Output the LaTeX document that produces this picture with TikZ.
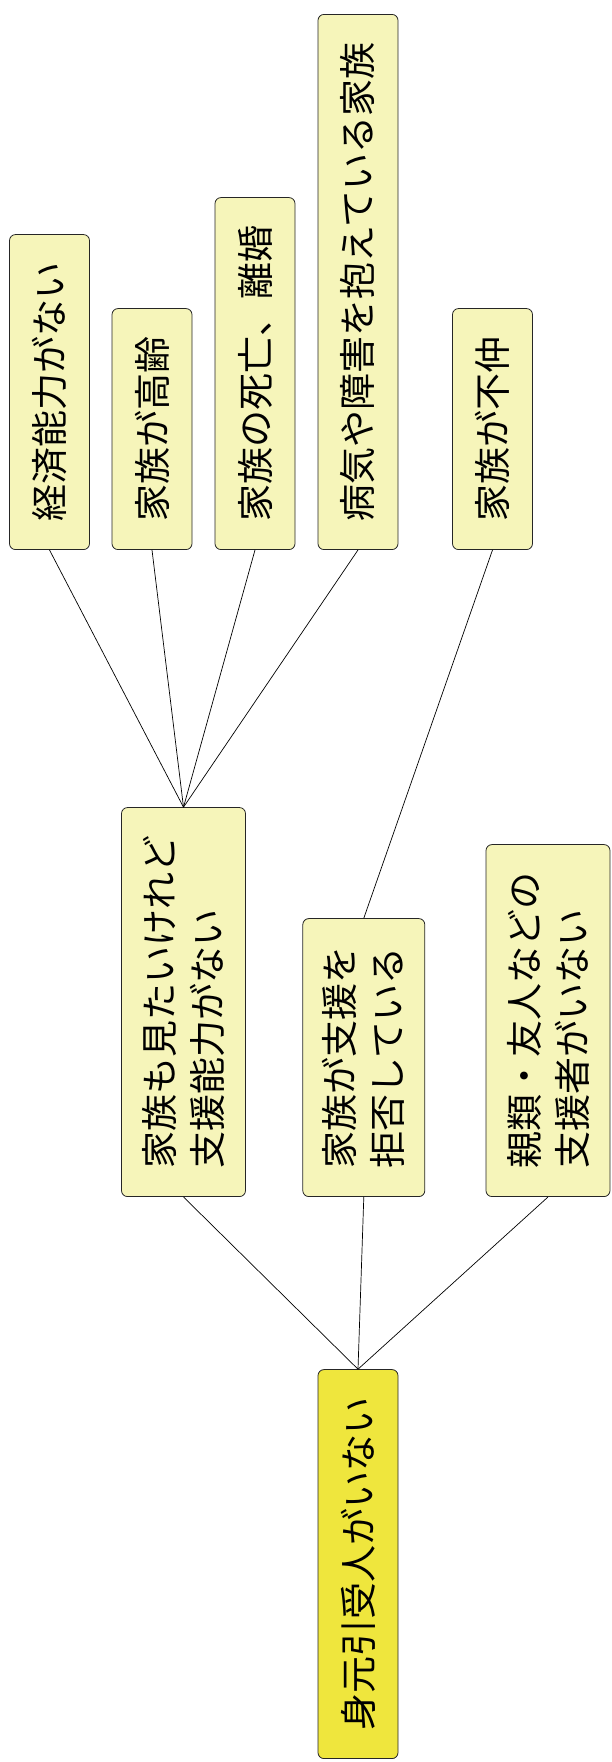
\documentclass[tikz,border=0pt]{standalone}
\usepackage{fontspec}
\setmainfont{Noto Sans CJK JP}
\usetikzlibrary{positioning}
\definecolor{palefill}{RGB}{246,245,186}
\definecolor{rootfill}{RGB}{239,230,61}
\tikzset{
  reason/.style={draw=black!85,fill=palefill,rounded corners=6pt,line width=0.8pt,rotate=90,anchor=west,inner xsep=28pt,inner ysep=0pt,minimum height=80pt,align=left,font=\fontsize{37}{48}\selectfont},
  reasontwo/.style={reason,minimum height=124pt},
  rootbox/.style={reason,fill=rootfill},
  link/.style={black,line width=0.7pt}
}
\begin{document}
\begin{tikzpicture}[x=1pt,y=1pt]
\useasboundingbox (0,0) rectangle (611,1762);
% top row
\node[reason] (money) at (49.5,1212) {経済能力がない};
\node[reason] (aged) at (152,1212) {家族が高齢};
\node[reason] (death) at (255,1212) {家族の死亡、離婚};
\node[reason] (ill) at (358,1212) {病気や障害を抱えている家族};
\node[reason] (discord) at (492.5,1212) {家族が不仲};
% middle row
\node[reasontwo] (unable) at (183.5,565) {家族も見たいけれど\\支援能力がない};
\node[reasontwo,minimum height=122pt] (refuse) at (363.8,565) {家族が支援を\\拒否している};
\node[reasontwo] (nobody) at (548,565) {親類・友人などの\\支援者がいない};
% root
\node[rootbox] (guarantor) at (358,3) {身元引受人がいない};

\foreach \n in {money,aged,death,ill}
  \draw[link] (\n.west) -- (unable.east);
\draw[link] (discord.west) -- (refuse.east);
\foreach \n in {unable,refuse,nobody}
  \draw[link] (\n.west) -- (guarantor.east);
\end{tikzpicture}
\end{document}
